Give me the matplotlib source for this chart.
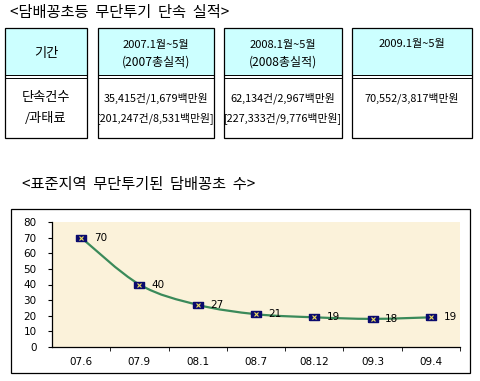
import matplotlib.pyplot as plt
from matplotlib.patches import Rectangle, PathPatch
from matplotlib.path import Path
from matplotlib.lines import Line2D

plt.rcParams['font.family'] = ['Noto Sans CJK KR', 'DejaVu Sans']

# data
title_top = '<담배꽁초등  무단투기  단속  실적>'
title_chart = '<표준지역  무단투기된  담배꽁초  수>'

header_line1 = ['기간', '2007.1월~5월', '2008.1월~5월', '2009.1월~5월']
header_line2 = ['', '(2007총실적)', '(2008총실적)', '']
body_line1 = ['단속건수', '35,415건/1,679백만원', '62,134건/2,967백만원', '70,552/3,817백만원']
body_line2 = ['/과태료', '[201,247건/8,531백만원]', '[227,333건/9,776백만원]', '']

months = ['07.6', '07.9', '08.1', '08.7', '08.12', '09.3', '09.4']
counts = [70, 40, 27, 21, 19, 18, 19]

W, H = 481, 381
fig = plt.figure(figsize=(W / 100, H / 100), dpi=100)
fig.patch.set_facecolor('white')


def fx(x):
    return x / W


def fy(y):
    return 1 - y / H


def px_text(x, y, s, **kw):
    fig.text(fx(x), fy(y), s, va='center', **kw)


# top title
px_text(10, 13, title_top, fontsize=11, ha='left')

# table boxes
box_left = [5, 98, 224, 352]
box_right = [87, 214, 342, 472]
top, mid, bottom = 28, 76, 138
for i in range(4):
    x0, x1 = box_left[i], box_right[i]
    fig.add_artist(Rectangle((fx(x0), fy(mid)), fx(x1 - x0), (mid - top) / H,
                             facecolor='#CCFFFF', edgecolor='none'))
    fig.add_artist(Rectangle((fx(x0), fy(bottom)), fx(x1 - x0), (bottom - top) / H,
                             facecolor='none', edgecolor='black', linewidth=0.9))
    for yl in (mid - 1, mid + 1.5):
        fig.add_artist(Line2D([fx(x0), fx(x1)], [fy(yl), fy(yl)], color='black', linewidth=0.7))
    cx = (x0 + x1) / 2
    if header_line2[i]:
        px_text(cx, 45, header_line1[i], fontsize=8, ha='center')
        px_text(cx, 62, header_line2[i], fontsize=8.7, ha='center')
    else:
        px_text(cx, 53 if i == 0 else 44, header_line1[i], fontsize=9.5 if i == 0 else 8, ha='center')
    px_text(cx, 98, body_line1[i], fontsize=9.5 if i == 0 else 7.8, ha='center')
    if body_line2[i]:
        px_text(cx, 118, body_line2[i], fontsize=9.5 if i == 0 else 7.8, ha='center')

# chart title
px_text(22, 185, title_chart, fontsize=11, ha='left')

# chart frame
fig.add_artist(Rectangle((fx(11), fy(373)), fx(459), 164 / H,
                         facecolor='white', edgecolor='black', linewidth=0.9, zorder=-5))

ax = fig.add_axes([fx(52), fy(347), fx(408), 125 / H])
ax.set_zorder(5)
ax.set_facecolor('#FBF2DA')
ax.set_xlim(-0.5, len(months) - 0.5)
ax.set_ylim(0, 80)
ax.set_yticks(range(0, 81, 10))
ax.set_xticks(range(len(months)))
ax.set_xticklabels(months)
ax.set_xticks([i + 0.5 for i in range(len(months))], minor=True)
ax.tick_params(axis='x', which='major', length=0, pad=7, labelsize=7.5)
ax.tick_params(axis='x', which='minor', length=3, direction='out')
ax.tick_params(axis='y', length=3, direction='out', pad=8, labelsize=7.5)
for lab in ax.get_xticklabels() + ax.get_yticklabels():
    lab.set_family('DejaVu Sans')
for s in ('top', 'right'):
    ax.spines[s].set_visible(False)
for s in ('left', 'bottom'):
    ax.spines[s].set_linewidth(0.9)

# smoothed line (Catmull-Rom style, like Excel's smoothed line)
xs = list(range(len(counts)))
pts = list(zip(xs, counts))
verts = [pts[0]]
codes = [Path.MOVETO]
for i in range(len(pts) - 1):
    p0 = pts[i - 1] if i > 0 else pts[i]
    p1 = pts[i]
    p2 = pts[i + 1]
    p3 = pts[i + 2] if i + 2 < len(pts) else pts[i + 1]
    c1 = (p1[0] + (p2[0] - p0[0]) / 6, p1[1] + (p2[1] - p0[1]) / 6)
    c2 = (p2[0] - (p3[0] - p1[0]) / 6, p2[1] - (p3[1] - p1[1]) / 6)
    verts += [c1, c2, p2]
    codes += [Path.CURVE4] * 3
ax.add_patch(PathPatch(Path(verts, codes), facecolor='none', edgecolor='#3A8A5A', linewidth=1.6))

rect = [(-1, -0.6), (1, -0.6), (1, 0.6), (-1, 0.6), (-1, -0.6)]
ax.plot(xs, counts, linestyle='none', marker=rect, markersize=7,
        markerfacecolor='#0A0A6E', markeredgecolor='#0A0A6E')
ax.plot(xs, counts, linestyle='none', marker='x', markersize=2.5,
        markeredgecolor='#F0E060', markeredgewidth=0.8)

for x, v in zip(xs, counts):
    ax.annotate(str(v), (x, v), xytext=(9, 0), textcoords='offset points',
                va='center', ha='left', fontsize=7.5, family='DejaVu Sans')

fig.savefig('out.png', dpi=100)
